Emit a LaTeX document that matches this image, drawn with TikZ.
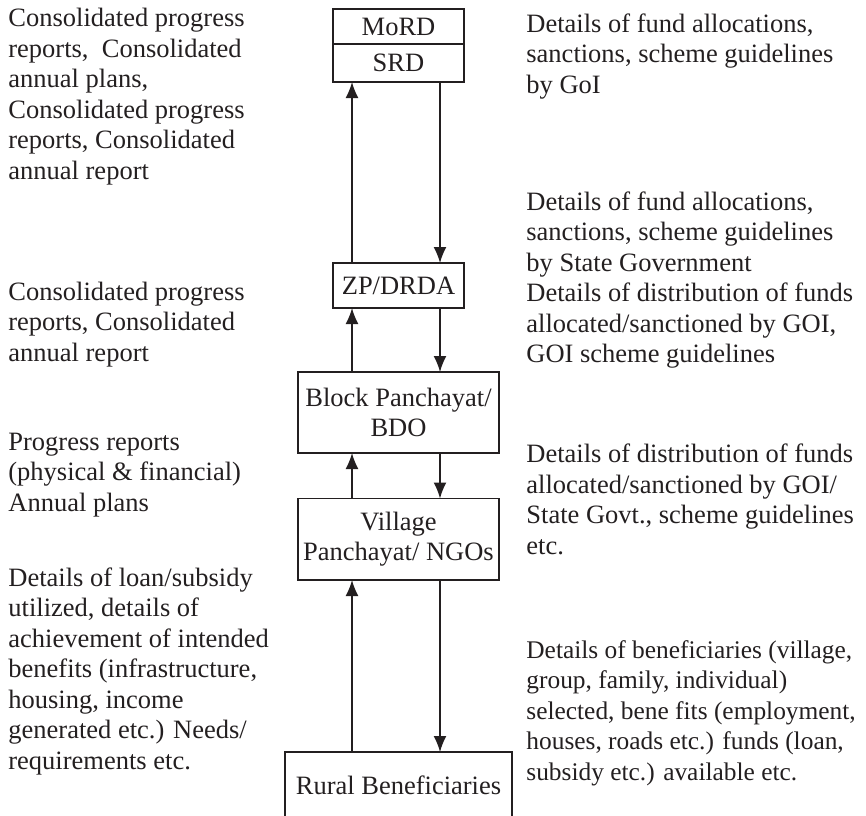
\documentclass[tikz,border=0pt]{standalone}
\usepackage{fontspec}
\setmainfont{Liberation Serif}
\usepackage{tikz}
\usetikzlibrary{arrows.meta}
\usetikzlibrary{positioning}
\definecolor{flow-ink}{HTML}{231F20}
\newcommand{\flowfont}{\fontsize{13.25}{15.25}\selectfont}

\begin{document}
\begin{tikzpicture}[
    x=0.5pt, y=-0.5pt,
    % Boxes of the hierarchy and the side notes
    box/.style={draw=flow-ink, line width=0.9pt, align=center, inner sep=0pt, outer sep=0pt, text=flow-ink, font=\flowfont},
    notestyle/.style={anchor=base west, align=left, inner sep=0pt, text=flow-ink, font=\flowfont},
    flow/.style={-{Latex[length=8pt, width=6.5pt]}, line width=0.8pt, flow-ink}
  ]

  \useasboundingbox (0,0) rectangle (866,815);
  \clip (0,0) rectangle (866,815);

  % =========================================================================
  % LEVELS
  % =========================================================================
  \node[box, minimum width=65.5pt, minimum height=17.5pt] (mord) at (398.5,26.5) {MoRD};
  \node[box, minimum width=65.5pt, minimum height=19pt, below=0pt of mord] (srd) {SRD};
  \node[box, minimum width=65.5pt, minimum height=22.5pt] (zp) at (398.5,285.5) {ZP/DRDA};
  \node[box, minimum width=100.5pt, minimum height=40.5pt] (block) at (398.5,412.5) {Block Panchayat/\\BDO};
  \node[box, minimum width=100.5pt, minimum height=40.75pt] (village) at (398.5,539.25) {Village\\Panchayat/ NGOs};
  \node[box, minimum width=113.5pt, minimum height=33pt] (rural) at (398.5,785) {Rural Beneficiaries};

  % Up and down lanes
  \coordinate (upline) at (352,0);
  \coordinate (downline) at (440,0);

  \draw[flow] (zp.north -| upline) -- (srd.south -| upline);
  \draw[flow] (srd.south -| downline) -- (zp.north -| downline);
  \draw[flow] (block.north -| upline) -- (zp.south -| upline);
  \draw[flow] (zp.south -| downline) -- (block.north -| downline);
  \draw[flow] (village.north -| upline) -- (block.south -| upline);
  \draw[flow] (block.south -| downline) -- (village.north -| downline);
  \draw[flow] (rural.north -| upline) -- (village.south -| upline);
  \draw[flow] (village.south -| downline) -- (rural.north -| downline);

  % =========================================================================
  % LEFT NOTES (upward flow), placed at the baseline of their last line
  % =========================================================================
  \node[notestyle] (upnote1) at (8,179) {Consolidated progress\\reports,\ \ Consolidated\\annual plans,\\Consolidated progress\\reports, Consolidated\\annual report};
  \node[notestyle] (upnote2) at (8,361) {Consolidated progress\\reports, Consolidated\\annual report};
  \node[notestyle] (upnote3) at (8,511) {Progress reports\\(physical \& financial)\\Annual plans};
  \node[notestyle] (upnote4) at (8,769) {Details of loan/subsidy\\utilized, details of\\achievement of intended\\benefits (infrastructure,\\housing, income\\generated etc.) Needs/\\requirements etc.};

  % =========================================================================
  % RIGHT NOTES (downward flow)
  % =========================================================================
  \node[notestyle] (downnote1) at (526,93) {Details of fund allocations,\\sanctions, scheme guidelines\\by GoI};
  \node[notestyle] (downnote2) at (526,362.5) {Details of fund allocations,\\sanctions, scheme guidelines\\by State Government\\Details of distribution of funds\\allocated/sanctioned by GOI,\\GOI scheme guidelines};
  \node[notestyle] (downnote3) at (526,554) {Details of distribution of funds\\allocated/sanctioned by GOI/\\State Govt., scheme guidelines\\etc.};
  \node[notestyle, font=\fontsize{12.7}{15.25}\selectfont] (downnote4) at (526,780) {Details of beneficiaries (village,\\group, family, individual)\\selected, bene fits (employment,\\houses, roads etc.) funds (loan,\\subsidy etc.) available etc.};

\end{tikzpicture}
\end{document}
